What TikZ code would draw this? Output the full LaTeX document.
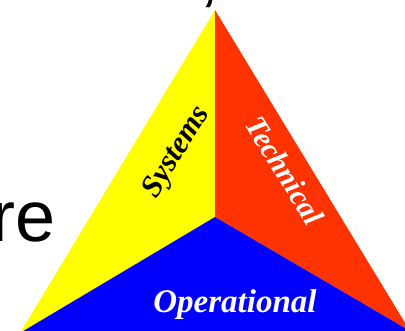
\documentclass[tikz,border=0pt]{standalone}
\usepackage{fontspec}
\setsansfont{Liberation Sans}
\newfontfamily\viewfont{Liberation Serif}
\usetikzlibrary{positioning}
\definecolor{sysyellow}{RGB}{255,255,0}
\definecolor{techred}{RGB}{255,51,0}
\definecolor{opblue}{RGB}{0,0,255}
\tikzset{
  face/.style={fill=#1,draw=none},
  view/.style={font=\viewfont\bfseries\itshape\fontsize{30}{35}\selectfont,inner sep=0pt,text=#1},
  view/.default=black,
  slide/.style={font=\sffamily\fontsize{72}{86}\selectfont,inner sep=0pt,anchor=base east},
}
\begin{document}
\begin{tikzpicture}[x=1pt,y=-1pt]
        \useasboundingbox (0,0) rectangle (405,331);
        \clip (0,0) rectangle (405,331);
        % corners of the pyramid
        \coordinate (apex) at (215,10);
        \coordinate (hub) at (215,217);
        \coordinate (lft) at (20,333);
        \coordinate (rgt) at (410,331);
        \fill[face=sysyellow] (apex) -- (hub) -- (lft) -- cycle;
        \fill[face=techred] (apex) -- (rgt) -- (hub) -- cycle;
        \fill[face=opblue] (hub) -- (rgt) -- (lft) -- cycle;
        % view names
        \node[view,anchor=base,rotate=58,font=\viewfont\bfseries\itshape\fontsize{31}{36}\selectfont] (sys) at (183,156) {Systems};
        \node[view=white,anchor=base,rotate=-58] (tech) at (276,176) {Technical};
        \node[view=white,anchor=base,font=\viewfont\bfseries\itshape\fontsize{33}{38}\selectfont] (op) at (235,313) {Operational};
        % slide text behind
        \node[slide] (head) at (220,-1) {so called,};
        \node[slide] (tail) at (56,242) {re};
      \end{tikzpicture}
\end{document}
